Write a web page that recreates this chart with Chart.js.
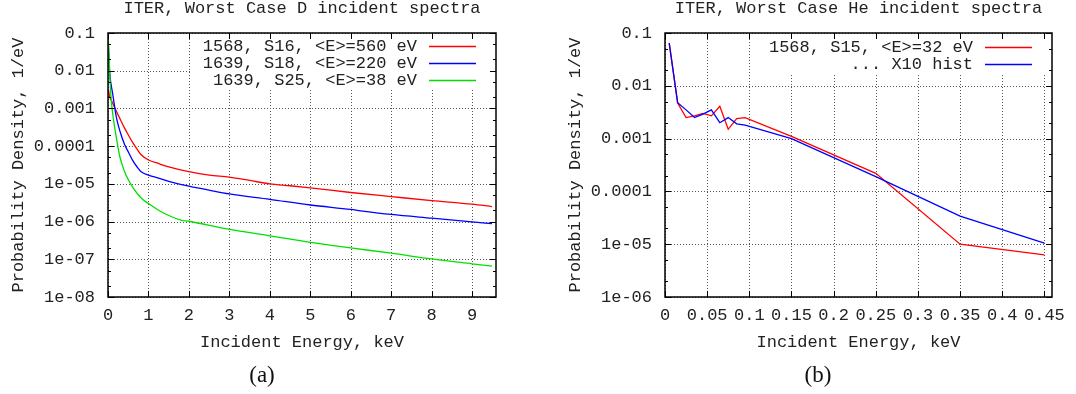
<!DOCTYPE html>
<html>
<head>
<meta charset="utf-8">
<script src="https://cdn.jsdelivr.net/npm/chart.js@4.4.1/dist/chart.umd.min.js"></script>
<style>
  html, body { margin: 0; padding: 0; background: #fff; }
  canvas { position: absolute; top: 0; }
  #chartA { left: 0; }
  #chartB { left: 538px; }
</style>
</head>
<body>
<canvas id="chartA" width="538" height="394"></canvas>
<canvas id="chartB" width="538" height="394"></canvas>
<script>
// ---- (a) D spectra ----
let redAx = [0.01, 0.04, 0.1, 0.21, 0.3, 0.41, 0.5, 0.62, 0.72, 0.82, 1.0, 1.27, 1.5, 2, 2.5, 3, 3.5, 4, 4.5, 5, 6, 7, 8, 9, 9.49];
let redAy = [3.2e-3, 2.1e-3, 1.5e-3, 8.3e-4, 5.2e-4, 3.0e-4, 2.0e-4, 1.2e-4, 8.3e-5, 5.9e-5, 4.3e-5, 3.4e-5, 2.8e-5, 2.1e-5, 1.7e-5, 1.5e-5, 1.23e-5, 1.0e-5, 8.9e-6, 7.8e-6, 5.9e-6, 4.6e-6, 3.6e-6, 2.9e-6, 2.5e-6];

let blueAx = [0.01, 0.04, 0.12, 0.21, 0.3, 0.41, 0.5, 0.62, 0.72, 0.82, 1.0, 1.27, 1.5, 2, 2.5, 3, 4, 5, 6, 6.3, 7, 8, 9, 9.49];
let blueAy = [4.5e-2, 9.5e-3, 2.3e-3, 5.6e-4, 2.4e-4, 1.1e-4, 7.1e-5, 4.0e-5, 2.8e-5, 2.1e-5, 1.7e-5, 1.4e-5, 1.17e-5, 8.7e-6, 6.8e-6, 5.4e-6, 3.9e-6, 2.75e-6, 2.1e-6, 1.9e-6, 1.55e-6, 1.23e-6, 9.8e-7, 8.8e-7];

let greenAx = [0.01, 0.07, 0.12, 0.21, 0.29, 0.41, 0.5, 0.62, 0.82, 1.0, 1.25, 1.5, 1.8, 2, 3, 4, 5, 6, 7, 8, 9, 9.49];
let greenAy = [6.3e-2, 2.3e-3, 6.8e-4, 1.6e-4, 5.4e-5, 2.1e-5, 1.3e-5, 7.8e-6, 4.2e-6, 3.0e-6, 2.0e-6, 1.45e-6, 1.1e-6, 1.02e-6, 6.2e-7, 4.2e-7, 2.8e-7, 2.0e-7, 1.45e-7, 1.02e-7, 7.6e-8, 6.6e-8];

let xTicksA = [0, 1, 2, 3, 4, 5, 6, 7, 8, 9];
let xLabelsA = ["0", "1", "2", "3", "4", "5", "6", "7", "8", "9"];
let yTicksA = [1e-8, 1e-7, 1e-6, 1e-5, 1e-4, 1e-3, 1e-2, 1e-1];
let yLabelsA = ["1e-08", "1e-07", "1e-06", "1e-05", "0.0001", "0.001", "0.01", "0.1"];
let legendA = ["1568, S16, <E>=560 eV", "1639, S18, <E>=220 eV", "1639, S25, <E>=38 eV"];

// ---- (b) He spectra ----
let redBx = [0.005, 0.015, 0.025, 0.035, 0.045, 0.055, 0.065, 0.075, 0.085, 0.095, 0.15, 0.25, 0.35, 0.45];
let redBy = [0.065, 0.0047, 0.0025, 0.0027, 0.0030, 0.0027, 0.0041, 0.0015, 0.0024, 0.0025, 0.0011, 0.00022, 1.0e-5, 6.3e-6];

let blueBx = [0.005, 0.015, 0.025, 0.035, 0.045, 0.055, 0.065, 0.075, 0.085, 0.095, 0.15, 0.25, 0.35, 0.45];
let blueBy = [0.064, 0.0048, 0.0035, 0.0025, 0.0029, 0.0035, 0.0020, 0.0025, 0.0019, 0.0018, 0.0010, 1.9e-4, 3.4e-5, 1.05e-5];

let xTicksB = [0, 0.05, 0.1, 0.15, 0.2, 0.25, 0.3, 0.35, 0.4, 0.45];
let xLabelsB = ["0", "0.05", "0.1", "0.15", "0.2", "0.25", "0.3", "0.35", "0.4", "0.45"];
let yTicksB = [1e-6, 1e-5, 1e-4, 1e-3, 1e-2, 1e-1];
let yLabelsB = ["1e-06", "1e-05", "0.0001", "0.001", "0.01", "0.1"];
let legendB = ["1568, S15, <E>=32 eV", "... X10 hist"];

const MONO = '"Liberation Mono", "DejaVu Sans Mono", monospace';
const INK = '#222';

function pts(xs, ys) {
    return xs.map((x, i) => ({ x: x, y: ys[i] }));
}

// gnuplot style frame: dotted grid, key box, border, inward ticks, texts
function framePlugin(cfg) {
    return {
        id: 'frame',
        beforeDatasetsDraw(chart) {
            const ctx = chart.ctx, a = chart.chartArea;
            const x = chart.scales.x, y = chart.scales.y;
            ctx.save();
            ctx.strokeStyle = '#555';
            ctx.lineWidth = 1;
            ctx.setLineDash([1, 2]);
            ctx.beginPath();
            cfg.xTicks.forEach(v => {
                const px = Math.round(x.getPixelForValue(v)) + 0.5;
                ctx.moveTo(px, a.top); ctx.lineTo(px, a.bottom);
            });
            cfg.yTicks.forEach(v => {
                const py = Math.round(y.getPixelForValue(v)) + 0.5;
                ctx.moveTo(a.left, py); ctx.lineTo(a.right, py);
            });
            ctx.stroke();
            ctx.setLineDash([]);
            ctx.fillStyle = '#fff';
            ctx.fillRect(cfg.keyBox[0], cfg.keyBox[1], cfg.keyBox[2], cfg.keyBox[3]);
            ctx.restore();
        },
        afterDatasetsDraw(chart) {
            const ctx = chart.ctx, a = chart.chartArea;
            const x = chart.scales.x, y = chart.scales.y;
            ctx.save();
            // ticks
            ctx.strokeStyle = '#000';
            ctx.lineWidth = 1;
            ctx.beginPath();
            cfg.xTicks.forEach(v => {
                const px = Math.round(x.getPixelForValue(v)) + 0.5;
                ctx.moveTo(px, a.bottom); ctx.lineTo(px, a.bottom - 6);
                ctx.moveTo(px, a.top); ctx.lineTo(px, a.top + 6);
            });
            cfg.yTicks.forEach((v, i) => {
                const py = Math.round(y.getPixelForValue(v)) + 0.5;
                ctx.moveTo(a.left, py); ctx.lineTo(a.left + 6, py);
                ctx.moveTo(a.right, py); ctx.lineTo(a.right - 6, py);
                if (i < cfg.yTicks.length - 1) {
                    [2, 5].forEach(m => {
                        const pm = Math.round(y.getPixelForValue(v * m)) + 0.5;
                        ctx.moveTo(a.left, pm); ctx.lineTo(a.left + 3, pm);
                        ctx.moveTo(a.right, pm); ctx.lineTo(a.right - 3, pm);
                    });
                }
            });
            ctx.stroke();
            // border
            ctx.lineWidth = 1.5;
            ctx.strokeRect(a.left, a.top, a.right - a.left, a.bottom - a.top);

            // key
            ctx.font = '17px ' + MONO;
            ctx.fillStyle = INK;
            ctx.textAlign = 'right';
            ctx.textBaseline = 'middle';
            ctx.lineWidth = 1.3;
            cfg.legend.forEach((t, i) => {
                const ky = cfg.keyY + i * 17;
                ctx.fillText(t, cfg.keyTextRight, ky);
                ctx.strokeStyle = cfg.colors[i];
                ctx.beginPath();
                ctx.moveTo(cfg.keyLine[0], ky + 0.5);
                ctx.lineTo(cfg.keyLine[1], ky + 0.5);
                ctx.stroke();
            });

            // titles
            const cx = (a.left + a.right) / 2;
            ctx.textAlign = 'center';
            ctx.fillText(cfg.title, cx, 8);
            ctx.fillText('Incident Energy, keV', cx, 342);
            ctx.save();
            ctx.translate(cfg.yTitleX, (a.top + a.bottom) / 2);
            ctx.rotate(-Math.PI / 2);
            ctx.fillText('Probability Density, 1/eV', 0, 0);
            ctx.restore();
            ctx.font = '23px "Liberation Serif", serif';
            ctx.fillStyle = '#111';
            ctx.fillText(cfg.caption, cfg.captionX, 376);
            ctx.restore();
        }
    };
}

function makeChart(id, datasets, xMax, yMin, xTicks, xLabels, yTicks, yLabels, padRight, yWidth, cfg) {
    const tickFont = { family: MONO, size: 17 };
    return new Chart(document.getElementById(id).getContext('2d'), {
        type: 'line',
        data: { datasets: datasets },
        options: {
            responsive: false,
            animation: false,
            devicePixelRatio: 1,
            layout: { padding: { left: 0, right: padRight, top: 33, bottom: 0 } },
            plugins: { legend: { display: false }, tooltip: { enabled: false } },
            elements: { point: { radius: 0 }, line: { tension: 0 } },
            scales: {
                x: {
                    type: 'linear', min: 0, max: xMax,
                    grid: { display: false, drawTicks: false },
                    border: { display: false },
                    afterBuildTicks: s => { s.ticks = xTicks.map(v => ({ value: v })); },
                    afterFit: s => { s.height = 97; },
                    ticks: {
                        font: tickFont, color: INK, padding: 8,
                        maxRotation: 0, autoSkip: false,
                        callback: (v, i) => xLabels[i]
                    }
                },
                y: {
                    type: 'logarithmic', min: yMin, max: 0.1,
                    grid: { display: false, drawTicks: false },
                    border: { display: false },
                    afterBuildTicks: s => { s.ticks = yTicks.map(v => ({ value: v })); },
                    afterFit: s => { s.width = yWidth; },
                    ticks: {
                        font: tickFont, color: INK, padding: 13,
                        autoSkip: false,
                        callback: (v, i) => yLabels[i]
                    }
                }
            }
        },
        plugins: [framePlugin(cfg)]
    });
}

makeChart('chartA', [
    { data: pts(redAx, redAy), borderColor: '#ff0000', borderWidth: 1.3, order: 3, cubicInterpolationMode: 'monotone' },
    { data: pts(blueAx, blueAy), borderColor: '#0000ff', borderWidth: 1.3, order: 2, cubicInterpolationMode: 'monotone' },
    { data: pts(greenAx, greenAy), borderColor: '#00e000', borderWidth: 1.3, order: 1, cubicInterpolationMode: 'monotone' }
], 9.59, 1e-8, xTicksA, xLabelsA, yTicksA, yLabelsA, 42, 108, {
    xTicks: xTicksA, yTicks: yTicksA,
    legend: legendA, colors: ['#ff0000', '#0000ff', '#00e000'],
    keyBox: [192, 34, 298, 56], keyY: 46, keyTextRight: 417, keyLine: [429, 476],
    title: 'ITER, Worst Case D incident spectra', yTitleX: 18,
    caption: '(a)', captionX: 262
});

makeChart('chartB', [
    { data: pts(redBx, redBy), borderColor: '#ff0000', borderWidth: 1.3, order: 2 },
    { data: pts(blueBx, blueBy), borderColor: '#0000ff', borderWidth: 1.3, order: 1 }
], 0.459, 1e-6, xTicksB, xLabelsB, yTicksB, yLabelsB, 24, 127, {
    xTicks: xTicksB, yTicks: yTicksB,
    legend: legendB, colors: ['#ff0000', '#0000ff'],
    keyBox: [222, 34, 290, 39], keyY: 47, keyTextRight: 435, keyLine: [447, 494],
    title: 'ITER, Worst Case He incident spectra', yTitleX: 37,
    caption: '(b)', captionX: 280
});
</script>
</body>
</html>
